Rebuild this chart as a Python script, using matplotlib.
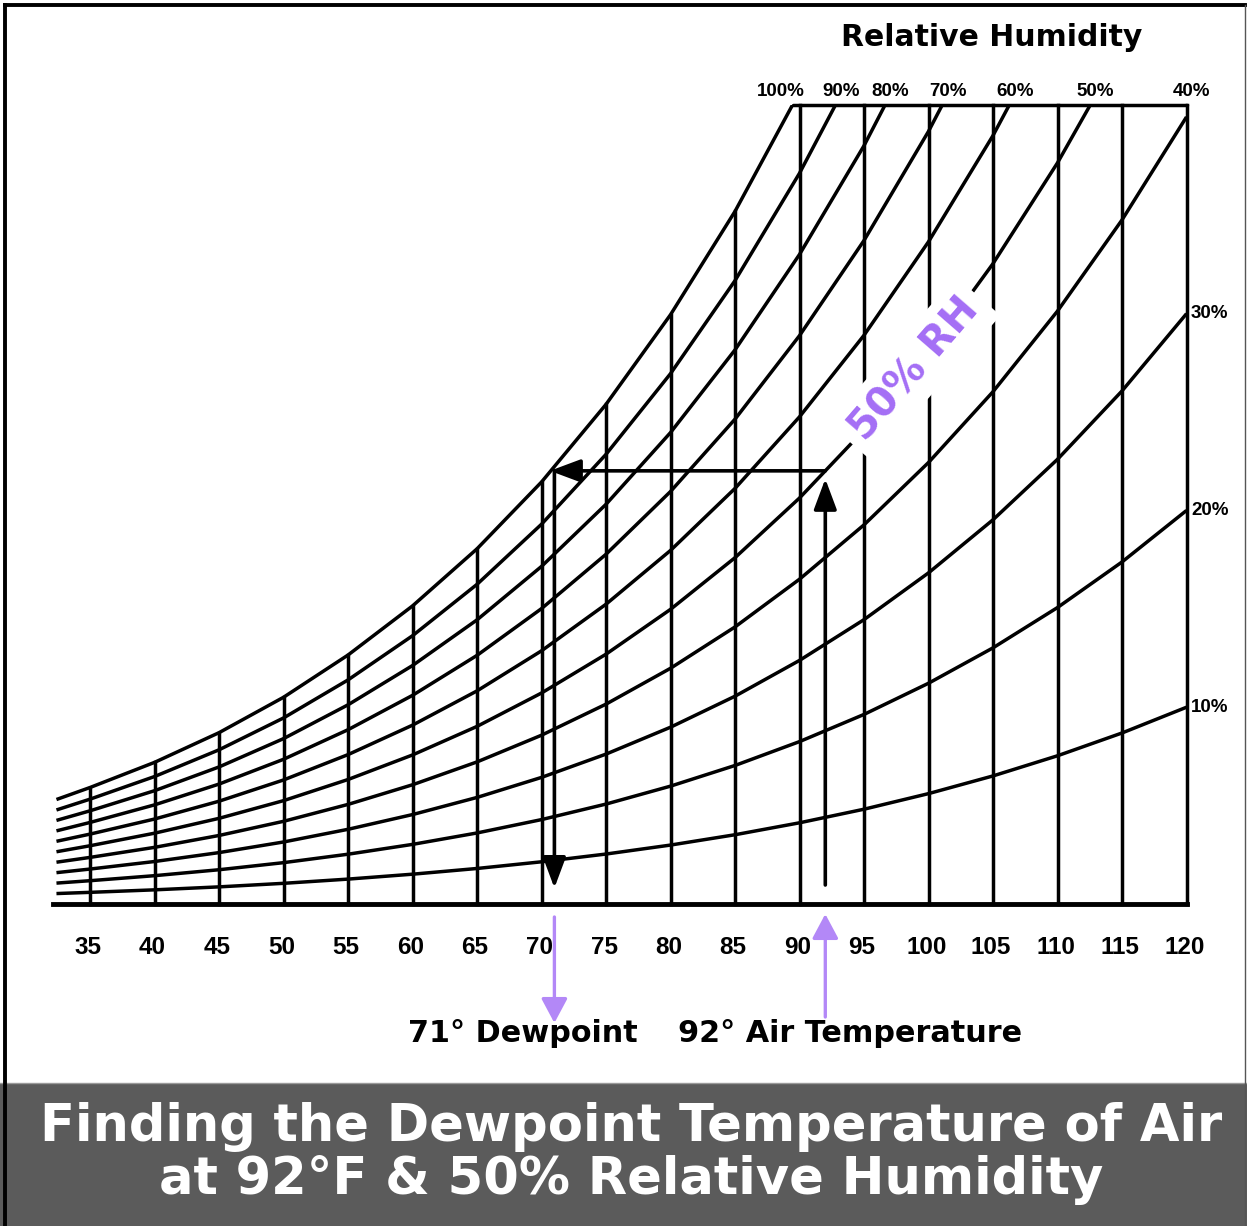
import numpy as np
import matplotlib
matplotlib.use("Agg")
import matplotlib.pyplot as plt
from matplotlib.patches import Rectangle
from matplotlib.lines import Line2D

# ---------------- data ----------------
# air temperature (deg F) along the bottom scale
temps = [32.4, 35, 40, 45, 50, 55, 60, 65, 70, 75, 80, 85, 90, 95, 100, 105, 110, 115, 120]
# saturation (100% RH) vapour pressure, inHg, at each temperature
sat_vp = [0.183, 0.204, 0.248, 0.300, 0.362, 0.436, 0.522, 0.622, 0.739, 0.875,
          1.032, 1.213, 1.422, 1.660, 1.933, 2.243, 2.596, 2.995, 3.446]
rh_levels = [100, 90, 80, 70, 60, 50, 40, 30, 20, 10]
rh_labels = ["100%", "90%", "80%", "70%", "60%", "50%", "40%", "30%", "20%", "10%"]
tick_temps = [35, 40, 45, 50, 55, 60, 65, 70, 75, 80, 85, 90, 95, 100, 105, 110, 115, 120]
tick_labels = [str(t) for t in tick_temps]
chart_top = 1.40          # upper limit line of the chart (inHg)
dewpoint = 71
air_temp = 92
air_rh = 50

# ---------------- layout helpers ----------------
W, H = 1247, 1226
DPI = 100
X0_PX, PX_PER_F = 90.0, 12.9     # 35 F at x=90 px
Y0_PX, PX_PER_U = 904.0, 571.0   # baseline at y=904 px

def fx(px):
    return px / W

def fy(py):
    return 1 - py / H

fig = plt.figure(figsize=(W / DPI, H / DPI), dpi=DPI)
fig.patch.set_facecolor("white")

ax_l, ax_r = 40, 1215
ax_b = 915
ax_t = Y0_PX - chart_top * PX_PER_U
ax = fig.add_axes([fx(ax_l), fy(ax_b), (ax_r - ax_l) / W, (ax_b - ax_t) / H])
ax.set_xlim(35 + (ax_l - X0_PX) / PX_PER_F, 35 + (ax_r - X0_PX) / PX_PER_F)
ax.set_ylim((Y0_PX - ax_b) / PX_PER_U, chart_top)
ax.axis("off")

temps_a = np.array(temps)
sat_a = np.array(sat_vp)
LW = 2.5

# RH curves
for rh in rh_levels:
    ax.plot(temps_a, sat_a * rh / 100.0, color="black", lw=LW, solid_capstyle="butt", zorder=2)

# vertical temperature lines up to the saturation curve / top line
for t in tick_temps:
    top = min(np.interp(t, temps_a, sat_a), chart_top)
    ax.plot([t, t], [0, top], color="black", lw=LW, zorder=2, clip_on=False)

# top line
t_top100 = np.interp(chart_top, sat_a, temps_a)
ax.plot([t_top100, tick_temps[-1]], [chart_top, chart_top], color="black", lw=LW,
        clip_on=False, zorder=2, solid_capstyle="round")
# baseline
ax.plot([temps[0] - 0.3, tick_temps[-1]], [0, 0], color="black", lw=3.5, clip_on=False, zorder=2)

# tick labels
ylab = (Y0_PX - 947) / PX_PER_U
for t, lab in zip(tick_temps, tick_labels):
    ax.text(t - 0.15, ylab, lab, ha="center", va="center", fontsize=17.5,
            family="Liberation Sans", weight="bold", clip_on=False)

# RH labels: along the top line, or at the right edge
for i, (rh, lab) in enumerate(zip(rh_levels, rh_labels)):
    end_val = sat_a[-1] * rh / 100.0
    if end_val >= chart_top - 0.05:
        t_cross = min(np.interp(chart_top / (rh / 100.0), sat_a, temps_a), tick_temps[-1])
        off = -0.9 if i == 0 else 0.4
        ax.text(t_cross + off, chart_top + 13 / PX_PER_U, lab, ha="center", va="center",
                fontsize=13.5, family="Liberation Sans", weight="bold", clip_on=False)
    else:
        ax.text(tick_temps[-1] + 0.35, end_val, lab, ha="left", va="center",
                fontsize=13.5, family="Liberation Sans", weight="bold", clip_on=False)

# 50% RH label along the curve
t_txt = 98.9
ax.text(t_txt, np.interp(t_txt, temps_a, sat_a) * air_rh / 100.0, "50% RH",
        rotation=49, rotation_mode="anchor", ha="center", va="center",
        fontsize=29, weight="bold", color="#a46ef5", family="DejaVu Sans", zorder=5,
        bbox=dict(facecolor="white", edgecolor="none", pad=7))

# black construction arrows
y_air = np.interp(air_temp, temps_a, sat_a) * air_rh / 100.0
ahead = "-|>,head_length=0.75,head_width=0.28"
ax.annotate("", xy=(air_temp, y_air - 8 / PX_PER_U), xytext=(air_temp, 19 / PX_PER_U),
            arrowprops=dict(arrowstyle=ahead, lw=2.6, color="black", mutation_scale=25,
                            shrinkA=0, shrinkB=0), zorder=6)
ax.annotate("", xy=(dewpoint - 0.35, y_air), xytext=(air_temp, y_air),
            arrowprops=dict(arrowstyle=ahead, lw=2.6, color="black", mutation_scale=25,
                            shrinkA=0, shrinkB=0), zorder=6)
ax.annotate("", xy=(dewpoint, 16 / PX_PER_U), xytext=(dewpoint, y_air),
            arrowprops=dict(arrowstyle=ahead, lw=2.6, color="black", mutation_scale=25,
                            shrinkA=0, shrinkB=0), zorder=6)

# purple pointer arrows below the scale
purple = "#b388f7"
phead = "-|>,head_length=0.6,head_width=0.32"
ax.annotate("", xy=(dewpoint, (Y0_PX - 1023) / PX_PER_U), xytext=(dewpoint, (Y0_PX - 917) / PX_PER_U),
            arrowprops=dict(arrowstyle=phead, lw=2.4, color=purple, mutation_scale=25,
                            shrinkA=0, shrinkB=0), annotation_clip=False)
ax.annotate("", xy=(air_temp, (Y0_PX - 914) / PX_PER_U), xytext=(air_temp, (Y0_PX - 1017) / PX_PER_U),
            arrowprops=dict(arrowstyle=phead, lw=2.4, color=purple, mutation_scale=25,
                            shrinkA=0, shrinkB=0), annotation_clip=False)

# texts
fig.text(fx(992), fy(37), "Relative Humidity", ha="center", va="center",
         fontsize=21.5, weight="bold", family="DejaVu Sans")
fig.text(fx(523), fy(1033), "71\u00b0 Dewpoint", ha="center", va="center",
         fontsize=21.8, weight="bold", family="DejaVu Sans")
fig.text(fx(850), fy(1033), "92\u00b0 Air Temperature", ha="center", va="center",
         fontsize=21.8, weight="bold", family="DejaVu Sans")

# bottom title band
fig.patches.append(Rectangle((0, 0), 1, fy(1083), transform=fig.transFigure,
                             facecolor="#5b5b5b", edgecolor="none", zorder=0))
fig.lines.append(Line2D([0, 1], [fy(1083), fy(1083)], transform=fig.transFigure,
                        color="#9a9a9a", lw=1))
fig.text(fx(631), fy(1127), "Finding the Dewpoint Temperature of Air", ha="center", va="center",
         fontsize=36.8, weight="bold", color="white", family="DejaVu Sans")
fig.text(fx(631), fy(1180), "at 92\u00b0F & 50% Relative Humidity", ha="center", va="center",
         fontsize=36.8, weight="bold", color="white", family="DejaVu Sans")

# frame
fig.lines.append(Line2D([fx(5), fx(5)], [0, fy(5)], transform=fig.transFigure, color="black", lw=2.8))
fig.lines.append(Line2D([fx(5), fx(1245)], [fy(5), fy(5)], transform=fig.transFigure, color="black", lw=2.8))
fig.lines.append(Line2D([fx(1245), fx(1245)], [0, fy(5)], transform=fig.transFigure, color="#555555", lw=1))

fig.savefig("out.png", dpi=DPI, facecolor="white")
